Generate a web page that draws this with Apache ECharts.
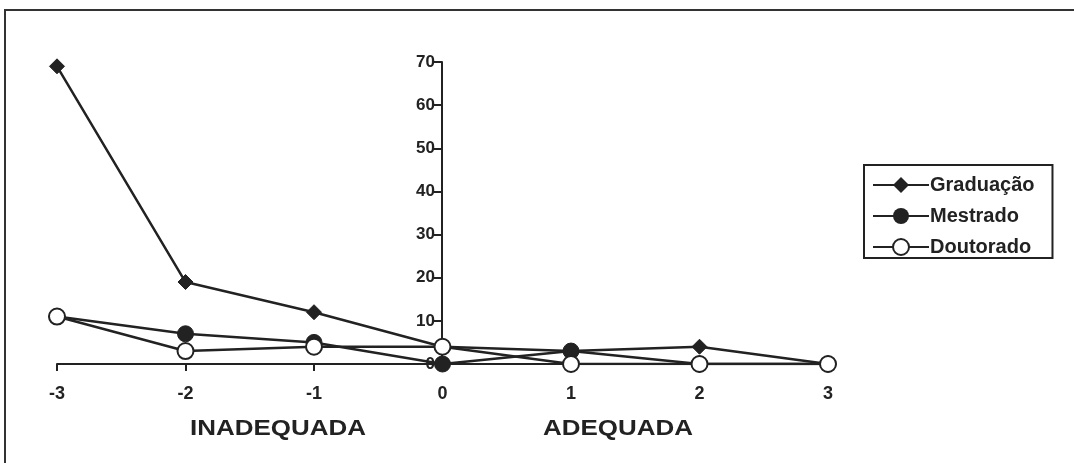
<!DOCTYPE html>
<html><head><meta charset="utf-8">
<script src="https://cdn.jsdelivr.net/npm/echarts@6/dist/echarts.min.js"></script>
<style>html,body{margin:0;padding:0;background:#fff}#c{width:1074px;height:463px}</style>
</head><body><div id="c"></div>
<script>
const xValues = [-3, -2, -1, 0, 1, 2, 3];
const graduacao = [69, 19, 12, 4, 3, 4, 0];
const mestrado = [11, 7, 5, 0, 3, 0, 0];
const doutorado = [11, 3, 4, 4, 0, 0, 0];
const seriesNames = ['Graduação', 'Mestrado', 'Doutorado'];
const groupLabels = ['INADEQUADA', 'ADEQUADA'];

const ink = '#222';
const font = '"Liberation Sans", Arial, sans-serif';
const pairs = arr => xValues.map((x, i) => [x, arr[i]]);
const chart = echarts.init(document.getElementById('c'));
chart.setOption({
  animation: false,
  backgroundColor: '#fff',
  textStyle: { fontFamily: font },
  grid: { left: 57, right: 246, top: 62, bottom: 99 },
  xAxis: {
    type: 'value', min: -3, max: 3, interval: 1,
    splitLine: { show: false },
    axisLine: { onZero: true, lineStyle: { color: ink, width: 2 } },
    axisTick: { show: true, length: 7, lineStyle: { color: ink, width: 2 } },
    axisLabel: { color: ink, fontWeight: 'bold', fontSize: 18, fontFamily: font, margin: 21 }
  },
  yAxis: {
    type: 'value', min: 0, max: 70, interval: 10,
    position: 'left', offset: -385,
    splitLine: { show: false },
    axisLine: { onZero: false, lineStyle: { color: ink, width: 2 } },
    axisTick: { show: true, length: 8, lineStyle: { color: ink, width: 2 } },
    axisLabel: { color: ink, fontWeight: 'bold', fontSize: 17, fontFamily: font, margin: 7 }
  },
  legend: {
    orient: 'vertical', left: 864, top: 165,
    padding: [10, 18, 1, 8], itemGap: 11,
    itemWidth: 56, itemHeight: 20,
    borderColor: ink, borderWidth: 2,
    textStyle: { color: ink, fontWeight: 'bold', fontSize: 20, fontFamily: font, padding: [0, 0, 0, -4] },
    data: seriesNames
  },
  graphic: [
    { type: 'rect', shape: { x: 5, y: 10, width: 1100, height: 500 }, style: { fill: 'none', stroke: '#333', lineWidth: 2 }, silent: true },
    { type: 'text', x: 190, y: 418, scaleX: 1.18, style: { text: groupLabels[0], font: 'bold 22px ' + font, fill: ink, verticalAlign: 'top' } },
    { type: 'text', x: 543, y: 418, scaleX: 1.18, style: { text: groupLabels[1], font: 'bold 22px ' + font, fill: ink, verticalAlign: 'top' } }
  ],
  series: [
    { name: seriesNames[0], type: 'line', data: pairs(graduacao), symbol: 'diamond', symbolSize: 15,
      lineStyle: { color: ink, width: 2.5 }, itemStyle: { color: ink, borderColor: ink } },
    { name: seriesNames[1], type: 'line', data: pairs(mestrado), symbol: 'circle', symbolSize: 16,
      lineStyle: { color: ink, width: 2.5 }, itemStyle: { color: ink, borderColor: ink } },
    { name: seriesNames[2], type: 'line', data: pairs(doutorado), symbol: 'circle', symbolSize: 16,
      lineStyle: { color: ink, width: 2.5 }, itemStyle: { color: '#fff', borderColor: ink, borderWidth: 2 } }
  ]
});
</script></body></html>
